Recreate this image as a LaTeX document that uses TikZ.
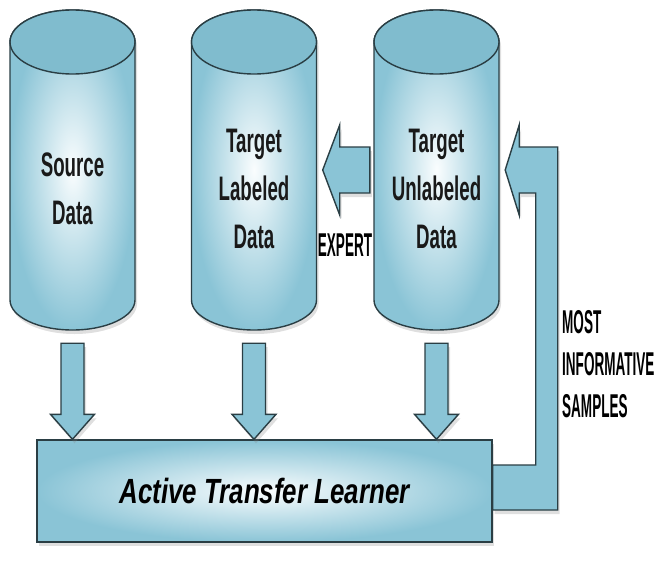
\documentclass[tikz,border=0pt]{standalone}
\usepackage{fontspec}
\usetikzlibrary{shadows,calc}
\newfontfamily\cylfont{Liberation Sans}[FakeStretch=0.55]
\newfontfamily\tagfont{Liberation Sans}[FakeStretch=0.41]
\newfontfamily\boxfont{Liberation Sans}[FakeStretch=0.74]
\definecolor{cylblue}{RGB}{138,196,214}
\definecolor{topblue}{RGB}{128,188,206}
\definecolor{glow}{RGB}{250,253,254}
\definecolor{rim}{RGB}{42,62,68}

\tikzset{
  softshadow/.style={drop shadow={shadow xshift=2pt,shadow yshift=-4pt,opacity=.25}},
  drumfill/.style={draw=rim, line width=1.4pt, inner color=glow, outer color=cylblue, softshadow},
  drumtop/.style={draw=rim, line width=1.4pt, fill=topblue},
  drum/.style={rectangle, minimum width=125pt, minimum height=320pt, inner sep=0pt},
  cyltext/.style={font=\cylfont\bfseries\fontsize{34}{48}\selectfont,
    align=center, text=black!90},
  tag/.style={font=\tagfont\bfseries\fontsize{33}{42}\selectfont,
    align=left, inner sep=0pt},
  blk/.style={draw=rim, line width=1.4pt, fill=cylblue, softshadow},
  down block/.style={to path={let \p1=(\tikztostart), \p2=(\tikztotarget) in
    (\x1-11.5pt,\y1) -- (\x1+11.5pt,\y1) -- (\x1+11.5pt,\y2+25pt)
    -- (\x1+22pt,\y2+25pt) -- (\x1,\y2) -- (\x1-22pt,\y2+25pt)
    -- (\x1-11.5pt,\y2+25pt) -- cycle}},
  left block/.style={to path={let \p1=(\tikztostart), \p2=(\tikztotarget) in
    (\x1,\y1+23pt) -- (\x2+17pt,\y1+23pt) -- (\x2+17pt,\y1+45pt)
    -- (\x2,\y1) -- (\x2+17pt,\y1-45pt) -- (\x2+17pt,\y1-23pt)
    -- (\x1,\y1-23pt) -- cycle}}
}

% name, centre x, text
\newcommand{\datadrum}[3]{%
  \path[drumfill] (#2-62.5,42) -- (#2-62.5,300)
    arc[start angle=180,end angle=360,x radius=62.5pt,y radius=30pt]
    -- (#2+62.5,42) arc[start angle=0,end angle=180,x radius=62.5pt,y radius=32pt] -- cycle;
  \path[drumtop] (#2,42) ellipse[x radius=62.5pt,y radius=32pt];
  \node[drum] (#1) at (#2,170) {};
  \node[cyltext] (#1-text) at (#2,189) {#3};
}

\begin{document}
\begin{tikzpicture}[x=1pt,y=-1pt]
  \useasboundingbox (0,0) rectangle (656,576);

  % data stores
  \datadrum{src}{72.5}{Source\\Data}
  \datadrum{lab}{254}{Target\\Labeled\\Data}
  \datadrum{unlab}{436.5}{Target\\Unlabeled\\Data}

  % learner
  \node[rectangle, draw=rim, line width=1.4pt, minimum width=455pt, minimum height=102pt,
    inner color=glow, outer color=cylblue, softshadow,
    font=\boxfont\bfseries\itshape\fontsize{35}{40}\selectfont] (learner) at (264.5,491)
    {Active Transfer Learner};

  % labels
  \node[tag] (expert) at (345,245) {EXPERT};
  \node[tag, anchor=west] (samples) at (562,364) {MOST\\INFORMATIVE\\SAMPLES};

  % block arrows
  \draw[blk] ([yshift=-13pt]src.south) to[down block] (src.south |- learner.north);
  \draw[blk] ([yshift=-13pt]lab.south) to[down block] (lab.south |- learner.north);
  \draw[blk] ([yshift=-13pt]unlab.south) to[down block] (unlab.south |- learner.north);
  \draw[blk] ([xshift=-4pt]unlab.west) to[left block] ([xshift=6pt]lab.east);
  \draw[blk] let \p1=(learner.east), \p2=(unlab.east) in
    (\x1,\y1+26pt) -- (\x1+43pt,\y1+26pt) -- (\x1+43pt,\y2-23pt)
    -- (\x2+20pt,\y2-23pt) -- (\x2+20pt,\y2-45pt) -- (\x2+6pt,\y2)
    -- (\x2+20pt,\y2+45pt) -- (\x2+20pt,\y2+23pt) -- (\x1+65pt,\y2+23pt)
    -- (\x1+65pt,\y1-19pt) -- (\x1,\y1-19pt) -- cycle;

\end{tikzpicture}
\end{document}
